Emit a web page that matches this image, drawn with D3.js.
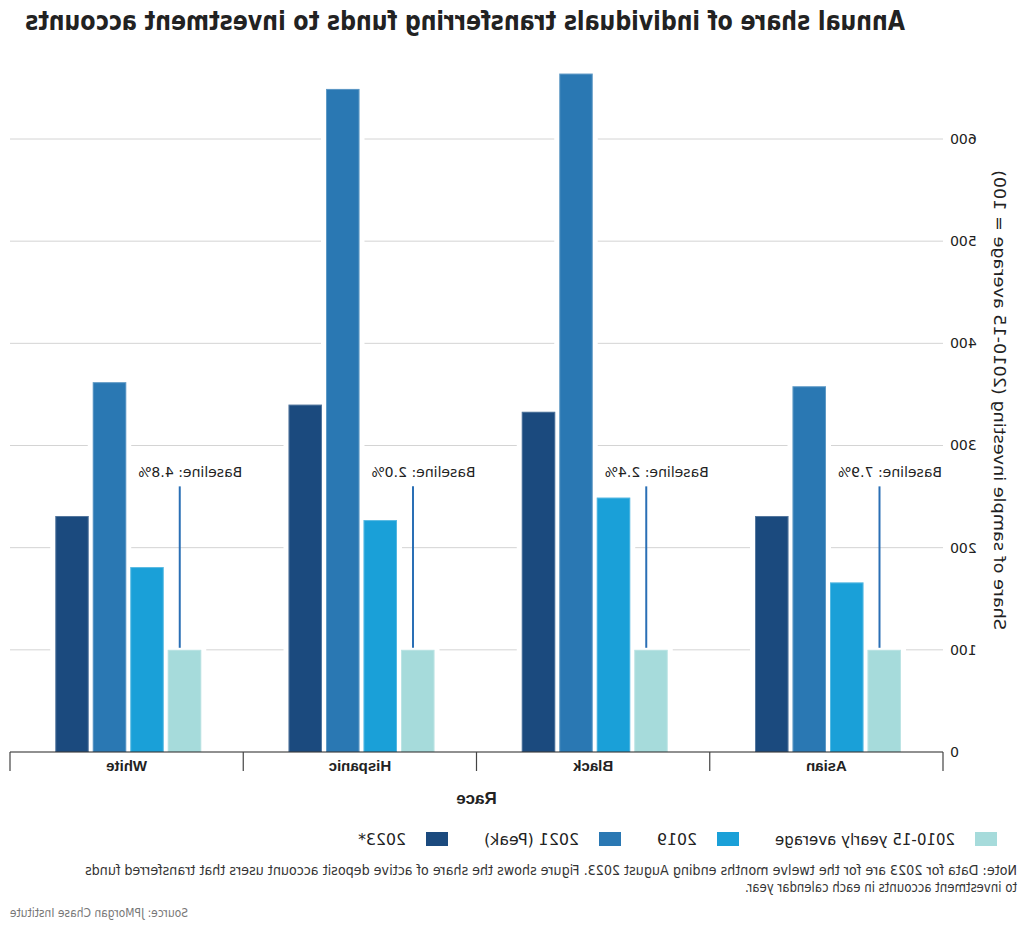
<!DOCTYPE html>
<html>
<head>
<meta charset="utf-8">
<script src="https://cdn.jsdelivr.net/npm/d3@7"></script>
<style>
  html, body { margin: 0; padding: 0; background: #fff; }
  svg { display: block; }
</style>
</head>
<body>
<svg id="chart" width="1027" height="931"></svg>
<script>
// ---- data ----
const categories = ["Asian", "Black", "Hispanic", "White"];
const seriesNames = ["2010-15 yearly average", "2019", "2021 (Peak)", "2023*"];
const avg2010_15 = [100, 100, 100, 100];
const v2019 = [166, 249, 227, 181];
const v2021 = [358, 664, 649, 362];
const v2023 = [231, 333, 340, 231];
const baselineLabels = ["Baseline: 7.9%", "Baseline: 2.4%", "Baseline: 2.0%", "Baseline: 4.8%"];
const yTicks = [0, 100, 200, 300, 400, 500, 600];
const colors = ["#a6dbdb", "#1aa0d8", "#2a78b3", "#1b4a7e"];

const seriesValues = [avg2010_15, v2019, v2021, v2023];

const W = 1027, H = 931;
const svg = d3.select("#chart");
// The reference is drawn mirrored horizontally
const root = svg.append("g").attr("transform", `translate(${W},0) scale(-1,1)`);

const x0 = d3.scaleBand().domain(categories).range([84, 1017]).padding(0);
const x1 = d3.scaleBand().domain(seriesNames).range([40, 190])
  .paddingInner(0.107).paddingOuter(0.0535);
const y = d3.scaleLinear().domain([0, 600]).range([752, 139]);

// gridlines
root.append("g").selectAll("line").data(yTicks.filter(d => d > 0)).join("line")
  .attr("x1", 84).attr("x2", 1017)
  .attr("y1", d => y(d)).attr("y2", d => y(d))
  .attr("stroke", "#d4d4d4").attr("stroke-width", 1);

// y tick labels
root.append("g").selectAll("text").data(yTicks).join("text")
  .attr("x", 77).attr("y", d => y(d)).attr("dy", "0.35em")
  .attr("text-anchor", "end")
  .attr("font-family", "DejaVu Sans").attr("font-size", 14).attr("fill", "#222")
  .text(d => d);

// bars
const rows = [];
categories.forEach((c, i) => {
  seriesNames.forEach((s, j) => rows.push({ cat: c, series: s, value: seriesValues[j][i], color: colors[j] }));
});
// white halo behind all bars (interrupts gridlines)
root.append("g").selectAll("rect").data(rows).join("rect")
  .attr("x", d => x0(d.cat) + x1(d.series))
  .attr("width", x1.bandwidth())
  .attr("y", d => y(d.value))
  .attr("height", d => y(0) - y(d.value))
  .attr("fill", "#fff")
  .attr("stroke", "#fff").attr("stroke-width", 10);
root.append("g").selectAll("rect").data(rows).join("rect")
  .attr("x", d => x0(d.cat) + x1(d.series))
  .attr("width", x1.bandwidth())
  .attr("y", d => y(d.value))
  .attr("height", d => y(0) - y(d.value))
  .attr("fill", d => d.color);
root.append("g").selectAll("rect").data(rows).join("rect")
  .attr("x", d => x0(d.cat) + x1(d.series) + 0.5)
  .attr("width", x1.bandwidth() - 1)
  .attr("y", d => y(d.value) + 0.5)
  .attr("height", d => y(0) - y(d.value) - 0.5)
  .attr("fill", "none")
  .attr("stroke", "#ffffff").attr("stroke-opacity", 0.25).attr("stroke-width", 1);

// baseline annotations
const ann = root.append("g");
ann.selectAll("line").data(categories).join("line")
  .attr("x1", d => x0(d) + 63.5).attr("x2", d => x0(d) + 63.5)
  .attr("y1", y(102)).attr("y2", y(260))
  .attr("stroke", "#2a6fb5").attr("stroke-width", 2);
ann.selectAll("text").data(categories).join("text")
  .attr("x", d => x0(d) + 1).attr("y", y(269))
  .attr("font-family", "DejaVu Sans").attr("font-size", 14).attr("fill", "#222")
  .text((d, i) => baselineLabels[i]);

// x axis
const xa = root.append("g");
xa.append("line").attr("x1", 84).attr("x2", 1017).attr("y1", y(0)).attr("y2", y(0))
  .attr("stroke", "#222").attr("stroke-width", 1.2);
const bounds = categories.map(c => x0(c)).concat([x0(categories[categories.length - 1]) + x0.bandwidth()]);
xa.selectAll("line.tick").data(bounds).join("line").attr("class", "tick")
  .attr("x1", d => d).attr("x2", d => d).attr("y1", y(0)).attr("y2", y(0) + 19)
  .attr("stroke", "#444").attr("stroke-width", 1.2);
xa.selectAll("text").data(categories).join("text")
  .attr("x", d => x0(d) + x0.bandwidth() / 2).attr("y", 771)
  .attr("text-anchor", "middle")
  .attr("font-family", "Liberation Sans").attr("font-weight", "bold").attr("font-size", 15).attr("fill", "#222")
  .text(d => d);

// axis titles
root.append("text").attr("x", 550.5).attr("y", 804).attr("text-anchor", "middle")
  .attr("font-family", "Liberation Sans").attr("font-weight", "bold").attr("font-size", 17).attr("fill", "#222")
  .text("Race");
root.append("text").attr("transform", "translate(33,400) rotate(-90)").attr("text-anchor", "middle")
  .attr("font-family", "DejaVu Sans").attr("font-size", 16).attr("fill", "#222")
  .attr("textLength", 460).attr("lengthAdjust", "spacingAndGlyphs")
  .text("Share of sample investing (2010-15 average = 100)");

// title
root.append("text").attr("transform", "translate(562,30) scale(1,1.13)")
  .attr("text-anchor", "middle")
  .attr("font-family", "DejaVu Sans Condensed, Liberation Sans Narrow, sans-serif")
  .attr("font-weight", "bold").attr("font-size", 23).attr("fill", "#222")
  .attr("textLength", 880).attr("lengthAdjust", "spacingAndGlyphs")
  .text("Annual share of individuals transferring funds to investment accounts");

// legend
const legendWidths = [180, 40, 95, 48];
const leg = root.append("g");
let lx = 30;
seriesNames.forEach((s, i) => {
  leg.append("rect").attr("x", lx).attr("y", 832).attr("width", 22).attr("height", 14).attr("fill", colors[i]);
  leg.append("text").attr("x", lx + 42).attr("y", 845)
    .attr("font-family", "DejaVu Sans").attr("font-size", 15).attr("fill", "#222")
    .attr("textLength", legendWidths[i]).attr("lengthAdjust", "spacingAndGlyphs")
    .text(s);
  lx += 42 + legendWidths[i] + 36;
});

// note & source
root.append("text").attr("x", 10).attr("y", 875)
  .attr("font-family", "Liberation Sans Narrow, DejaVu Sans Condensed, sans-serif")
  .attr("font-size", 14).attr("fill", "#333")
  .attr("textLength", 932).attr("lengthAdjust", "spacingAndGlyphs")
  .text("Note: Data for 2023 are for the twelve months ending August 2023. Figure shows the share of active deposit account users that transferred funds");
root.append("text").attr("x", 10).attr("y", 892)
  .attr("font-family", "Liberation Sans Narrow, DejaVu Sans Condensed, sans-serif")
  .attr("font-size", 14).attr("fill", "#333")
  .attr("textLength", 272).attr("lengthAdjust", "spacingAndGlyphs")
  .text("to investment accounts in each calendar year.");
root.append("text").attr("x", 1017).attr("y", 917).attr("text-anchor", "end")
  .attr("font-family", "Liberation Sans Narrow, DejaVu Sans Condensed, sans-serif")
  .attr("font-size", 12).attr("fill", "#777")
  .attr("textLength", 178).attr("lengthAdjust", "spacingAndGlyphs")
  .text("Source: JPMorgan Chase Institute");
</script>
</body>
</html>
